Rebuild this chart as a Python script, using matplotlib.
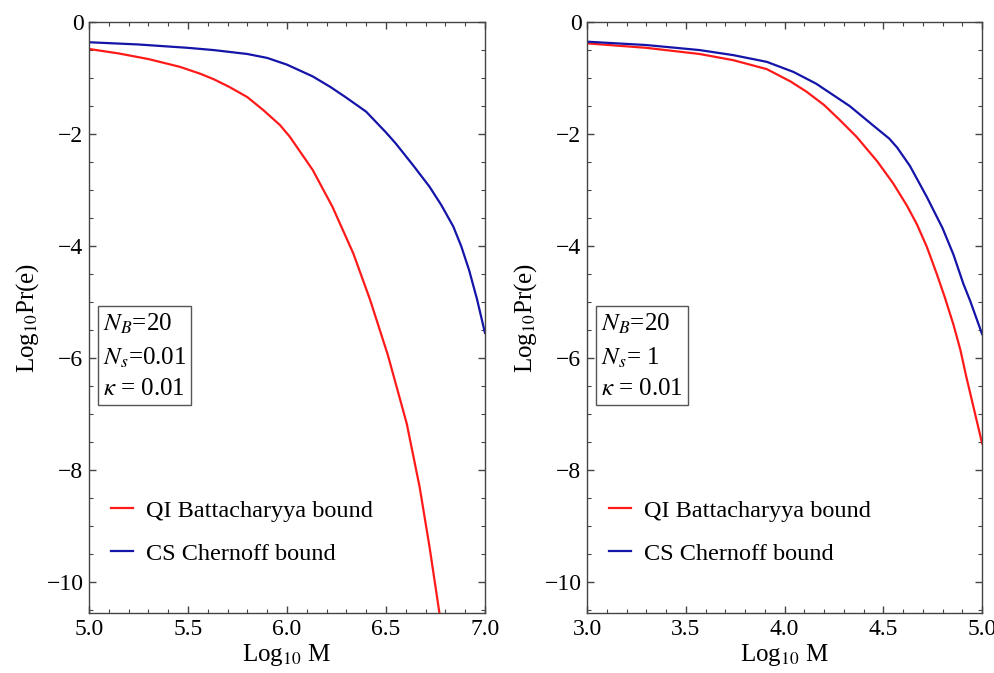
import matplotlib.pyplot as plt
from matplotlib.ticker import MultipleLocator

plt.rcParams["font.family"] = ["Liberation Serif", "DejaVu Serif"]
plt.rcParams["mathtext.fontset"] = "stix"

# left panel: N_s = 0.01
left_qi_x = [5.0, 5.15, 5.3, 5.46, 5.56, 5.63, 5.71, 5.80, 5.88, 5.965, 6.015, 6.13, 6.23, 6.335, 6.42,
             6.51, 6.605, 6.67, 6.72, 6.77, 6.79]
left_qi_y = [-0.48, -0.56, -0.66, -0.80, -0.92, -1.02, -1.16, -1.34, -1.57, -1.84, -2.05, -2.64, -3.30, -4.13, -4.96,
             -5.95, -7.17, -8.30, -9.37, -10.55, -10.95]
left_cs_x = [5.0, 5.25, 5.5, 5.63, 5.8, 5.9, 6.0, 6.13, 6.22, 6.3, 6.4, 6.5, 6.55, 6.64, 6.72,
             6.78, 6.84, 6.88, 6.92, 6.96, 7.0]
left_cs_y = [-0.36, -0.40, -0.46, -0.50, -0.57, -0.64, -0.76, -0.97, -1.16, -1.35, -1.60, -1.97, -2.17, -2.57, -2.94,
             -3.27, -3.65, -4.00, -4.43, -4.95, -5.55]

# right panel: N_s = 1
right_qi_x = [3.0, 3.3, 3.57, 3.74, 3.91, 4.03, 4.11, 4.20, 4.28, 4.365, 4.47, 4.55, 4.62, 4.67, 4.72,
              4.77, 4.81, 4.855, 4.89, 4.92, 4.955, 5.0]
right_qi_y = [-0.38, -0.46, -0.57, -0.68, -0.84, -1.06, -1.24, -1.48, -1.75, -2.05, -2.49, -2.88, -3.28, -3.61, -4.01,
              -4.49, -4.90, -5.40, -5.85, -6.33, -6.85, -7.52]
right_cs_x = [3.0, 3.3, 3.57, 3.74, 3.91, 4.045, 4.16, 4.33, 4.45, 4.53, 4.57, 4.635, 4.72, 4.80,
              4.855, 4.905, 4.94, 5.0]
right_cs_y = [-0.35, -0.41, -0.50, -0.59, -0.71, -0.89, -1.10, -1.50, -1.85, -2.08, -2.24, -2.57, -3.12, -3.68,
              -4.15, -4.67, -4.98, -5.57]

labels = ["QI Battacharyya bound", "CS Chernoff bound"]
params = [r"$N_B$=20" + "\n" + r"$N_s$=0.01" + "\n" + r"$\kappa$ = 0.01",
          r"$N_B$=20" + "\n" + r"$N_s$= 1" + "\n" + r"$\kappa$ = 0.01"]

red = "#ff1a1a"
blue = "#1414a8"
frame = "#444444"

fig = plt.figure(figsize=(9.95, 6.73), dpi=100)
ax1 = fig.add_axes([0.0894, 0.0892, 0.398, 0.878])
ax2 = fig.add_axes([0.590, 0.0892, 0.397, 0.878])

panels = [
    (ax1, left_qi_x, left_qi_y, left_cs_x, left_cs_y, (5, 7), params[0]),
    (ax2, right_qi_x, right_qi_y, right_cs_x, right_cs_y, (3, 5), params[1]),
]

for ax, qx, qy, cx, cy, xlim, txt in panels:
    ax.plot(qx, qy, color=red, lw=1.6, label=labels[0])
    ax.plot(cx, cy, color=blue, lw=1.6, label=labels[1])
    ax.set_xlim(*xlim)
    ax.set_ylim(-10.55, 0)
    ax.xaxis.set_major_locator(MultipleLocator(0.5))
    ax.xaxis.set_minor_locator(MultipleLocator(0.1))
    ax.yaxis.set_major_locator(MultipleLocator(2))
    ax.yaxis.set_minor_locator(MultipleLocator(0.5))
    ax.xaxis.set_major_formatter(lambda v, p: f"{v:.1f}")
    ax.tick_params(which="both", direction="in", top=True, right=True,
                   color=frame, labelsize=17, pad=4)
    ax.tick_params(which="major", length=5, width=1)
    ax.tick_params(which="minor", length=3, width=0.8)
    for s in ax.spines.values():
        s.set_color(frame)
        s.set_linewidth(1)
    ax.set_xlabel(r"Log$_{10}$ M", fontsize=18, labelpad=2)
    ax.set_ylabel(r"Log$_{10}$Pr(e)", fontsize=18, labelpad=4)
    ax.text(0.035, 0.51, txt, transform=ax.transAxes, fontsize=18,
            va="top", ha="left", linespacing=1.5,
            bbox=dict(boxstyle="square,pad=0.2", fc="white", ec="#555555", lw=1))
    ax.legend(loc="lower left", bbox_to_anchor=(0.0, 0.045), frameon=False,
              fontsize=17.5, handlelength=0.9, labelspacing=0.85, handletextpad=0.55)

fig.savefig("out.png", dpi=100)
